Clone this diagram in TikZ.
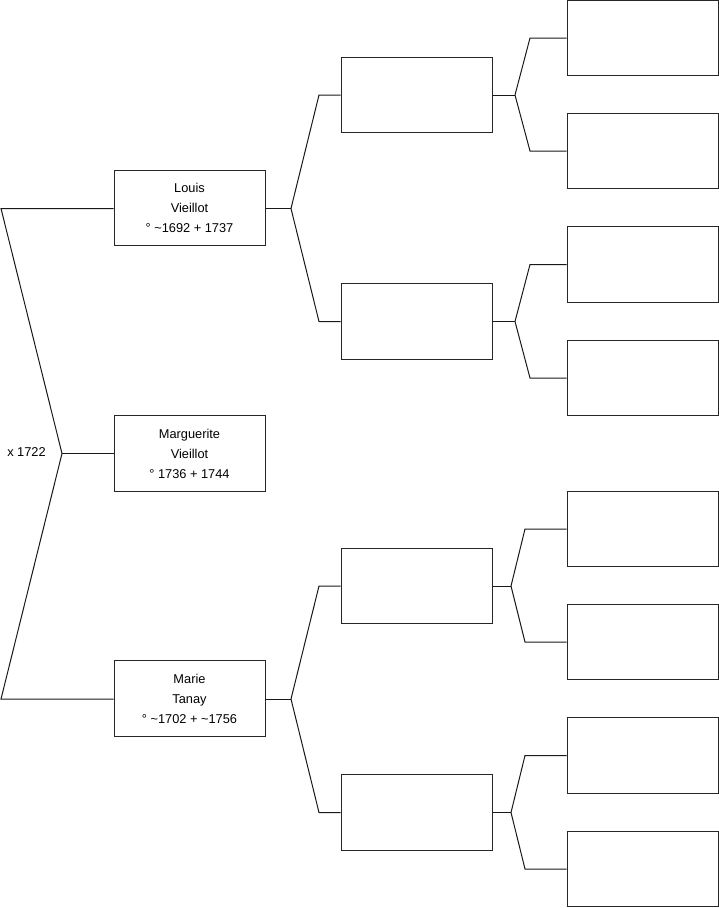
\documentclass[tikz,border=0pt]{standalone}
\usepackage{fontspec}
\setmainfont{Liberation Sans}
\begin{document}
\begin{tikzpicture}[x=1pt,y=-1pt,
  person/.style={draw=black!85,line width=1pt,minimum width=151pt,minimum height=75.5pt,inner sep=0pt,align=center,font=\fontsize{12.8}{20}\selectfont},
  link/.style={draw=black!90,line width=1pt}]
\useasboundingbox (0,0) rectangle (719,908);
% generation 1
\node[person] (louis) at (189.5,207.8) {Louis\\Vieillot\\° \textasciitilde1692 + 1737};
\node[person] (marg) at (189.5,453.5) {Marguerite\\Vieillot\\° 1736 + 1744};
\node[person] (marie) at (189.5,698.5) {Marie\\Tanay\\° \textasciitilde1702 + \textasciitilde1756};
% generation 2
\node[person] (a) at (416.5,95) {};
\node[person] (b) at (416.5,321.5) {};
\node[person] (c) at (416.5,586) {};
\node[person] (d) at (416.5,812.5) {};
% generation 3
\node[person] (a1) at (642.5,38) {};
\node[person] (a2) at (642.5,151) {};
\node[person] (b1) at (642.5,264.5) {};
\node[person] (b2) at (642.5,378) {};
\node[person] (c1) at (642.5,529) {};
\node[person] (c2) at (642.5,642) {};
\node[person] (d1) at (642.5,755.5) {};
\node[person] (d2) at (642.5,869) {};
% marriage
\coordinate (mt) at (1,208.5);
\coordinate (mj) at (62,453.5);
\coordinate (mb) at (1,699);
\node[font=\fontsize{12.8}{14}\selectfont,inner sep=0pt] (x) at (26.5,452) {x 1722};
\draw[link] (louis.west |- mt) -- (mt) -- (mj) -- (mb) -- (marie.west |- mb);
\draw[link] (mj) -- (marg.west);
% louis parents
\coordinate (lj) at (291,208.5);
\draw[link] (louis.east |- lj) -- (lj);
\draw[link] (lj) -- (319,95) -- (a.west);
\draw[link] (lj) -- (319,321.5) -- (b.west);
% marie parents
\coordinate (rj) at (291,699);
\draw[link] (marie.east |- rj) -- (rj);
\draw[link] (rj) -- (319,586) -- (c.west);
\draw[link] (rj) -- (319,812.5) -- (d.west);
% gen2 -> gen3
\coordinate (aj) at (515,95);
\draw[link] (a.east) -- (aj);
\draw[link] (aj) -- (530,38) -- (a1.west);
\draw[link] (aj) -- (530,151) -- (a2.west);
\coordinate (bj) at (515,321.5);
\draw[link] (b.east) -- (bj);
\draw[link] (bj) -- (530,264.5) -- (b1.west);
\draw[link] (bj) -- (530,378) -- (b2.west);
\coordinate (cj) at (511,586);
\draw[link] (c.east) -- (cj);
\draw[link] (cj) -- (525,529) -- (c1.west);
\draw[link] (cj) -- (525,642) -- (c2.west);
\coordinate (dj) at (511,812.5);
\draw[link] (d.east) -- (dj);
\draw[link] (dj) -- (525,755.5) -- (d1.west);
\draw[link] (dj) -- (525,869) -- (d2.west);
\end{tikzpicture}
\end{document}
